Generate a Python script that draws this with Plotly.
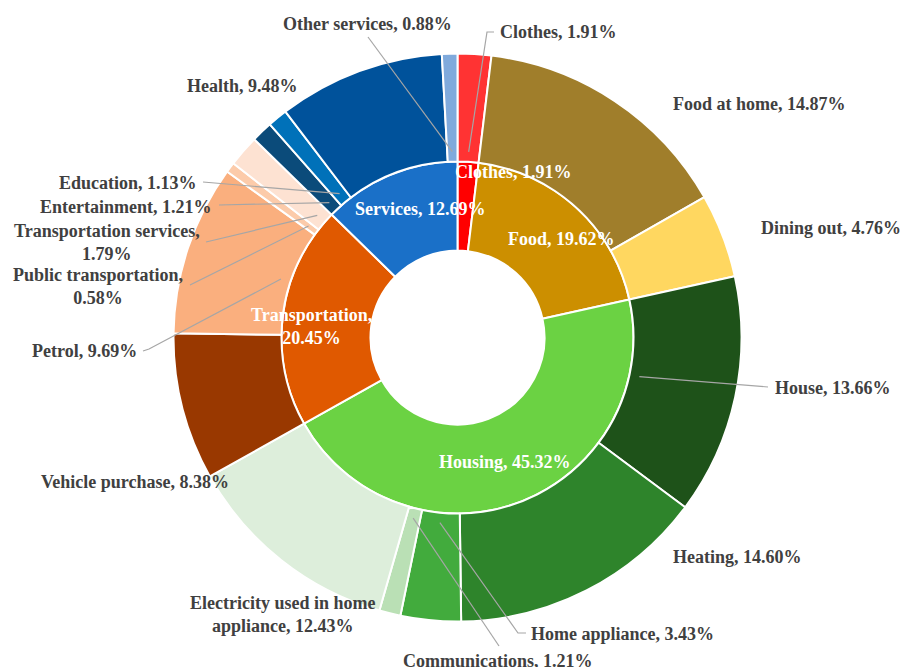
import math
import plotly.graph_objects as go

# ---- data -------------------------------------------------------------
inner_labels = ["Clothes", "Food", "Housing", "Transportation", "Services"]
inner_values = [1.91, 19.62, 45.32, 20.45, 12.69]

outer_labels = [
    "Clothes", "Food at home", "Dining out", "House", "Heating",
    "Home appliance", "Communications", "Electricity used in home appliance",
    "Vehicle purchase", "Petrol", "Public transportation",
    "Transportation services", "Entertainment", "Education", "Health",
    "Other services",
]
outer_values = [1.91, 14.87, 4.76, 13.66, 14.60, 3.43, 1.21, 12.43,
                8.38, 9.69, 0.58, 1.79, 1.21, 1.13, 9.48, 0.88]

# ---- styling ----------------------------------------------------------
inner_colors = ["#FF0000", "#CC8F00", "#6BD243", "#E05900", "#1A70C8"]
outer_colors = ["#FF3333", "#A07E2B", "#FFD760", "#1E5219", "#2E842B",
                "#42AB3D", "#BAE0B5", "#DDEEDB", "#993800", "#FAAF7E",
                "#FCCBAA", "#FDE2D2", "#0B4B7A", "#0071B9", "#00529B",
                "#80AADC"]

W, H = 903, 667
CX, CY = 457.5, 337.5          # ring centre (px from top-left)
R_OUT, R_MID, R_HOLE = 284, 176, 87
LEADER_R = 186                 # radius where leader lines touch the outer ring

FONT = "Liberation Serif"
TEXT_GREY = "#404040"
LINE_GREY = "#A6A6A6"


def px(x, y):
    """pixel position -> paper coordinates"""
    return x / W, 1 - y / H


def domain(r):
    return dict(x=[(CX - r) / W, (CX + r) / W],
                y=[(H - CY - r) / H, (H - CY + r) / H])


def slice_point(values, idx, r):
    total = sum(values)
    frac = (sum(values[:idx]) + values[idx] / 2) / total
    ang = 2 * math.pi * frac
    return CX + r * math.sin(ang), CY - r * math.cos(ang)


fig = go.Figure()
fig.add_trace(go.Pie(
    labels=inner_labels, values=inner_values, sort=False,
    direction="clockwise", rotation=0, hole=R_HOLE / R_MID,
    domain=domain(R_MID), textinfo="none",
    marker=dict(colors=inner_colors, line=dict(color="white", width=2)),
))
fig.add_trace(go.Pie(
    labels=outer_labels, values=outer_values, sort=False,
    direction="clockwise", rotation=0, hole=R_MID / R_OUT,
    domain=domain(R_OUT), textinfo="none",
    marker=dict(colors=outer_colors, line=dict(color="white", width=2)),
))

# label placement: text centre, optional line break point, leader start
inner_layout = {
    "Clothes": dict(pos=(513, 172)),
    "Food": dict(pos=(561, 239)),
    "Housing": dict(pos=(505, 462)),
    "Transportation": dict(pos=(311, 326), brk=", "),
    "Services": dict(pos=(420, 209)),
}
outer_layout = {
    "Clothes": dict(pos=(558, 32), lead=[(494, 32), (487, 32)]),
    "Food at home": dict(pos=(759, 104)),
    "Dining out": dict(pos=(831, 228)),
    "House": dict(pos=(833, 388), lead=[(768, 387)]),
    "Heating": dict(pos=(737, 557)),
    "Home appliance": dict(pos=(622, 634), lead=[(526, 633), (518, 633)]),
    "Communications": dict(pos=(498, 661), lead=[(499, 646)]),
    "Electricity used in home appliance": dict(pos=(282, 614), brk=" home "),
    "Vehicle purchase": dict(pos=(135, 482)),
    "Petrol": dict(pos=(84, 351), lead=[(143, 351), (149, 349)]),
    "Public transportation": dict(pos=(98, 286), brk=", ",
                                  lead=[(190, 285)]),
    "Transportation services": dict(pos=(107, 242), brk=", ",
                                    lead=[(206, 242)]),
    "Entertainment": dict(pos=(125, 207), lead=[(219, 205)]),
    "Education": dict(pos=(128, 183), lead=[(203, 182)]),
    "Health": dict(pos=(242, 86)),
    "Other services": dict(pos=(367, 24), lead=[(368, 37)]),
}


def label_text(name, value, brk=None):
    text = f"{name}, {value:.2f}%"
    if brk:
        text = text.replace(brk, brk.rstrip() + "<br>", 1)
    return text


annotations = []
shapes = []
for name, val in zip(inner_labels, inner_values):
    spec = inner_layout[name]
    x, y = px(*spec["pos"])
    annotations.append(dict(
        x=x, y=y, xref="paper", yref="paper", showarrow=False,
        text=label_text(name, val, spec.get("brk")),
        xanchor="center", yanchor="middle", align="center",
        font=dict(family=FONT, size=18, color="white", weight="bold"),
    ))

for i, (name, val) in enumerate(zip(outer_labels, outer_values)):
    spec = outer_layout[name]
    x, y = px(*spec["pos"])
    annotations.append(dict(
        x=x, y=y, xref="paper", yref="paper", showarrow=False,
        text=label_text(name, val, spec.get("brk")),
        xanchor="center", yanchor="middle", align="center",
        font=dict(family=FONT, size=18, color=TEXT_GREY, weight="bold"),
    ))
    if "lead" in spec:
        pts = list(spec["lead"]) + [slice_point(outer_values, i, LEADER_R)]
        path = "M " + " L ".join(
            f"{px(a, b)[0]:.5f},{px(a, b)[1]:.5f}" for a, b in pts)
        shapes.append(dict(type="path", path=path, xref="paper",
                           yref="paper", line=dict(color=LINE_GREY, width=1.2)))

fig.update_layout(
    width=W, height=H, margin=dict(l=0, r=0, t=0, b=0),
    showlegend=False, paper_bgcolor="white", plot_bgcolor="white",
    annotations=annotations, shapes=shapes,
)

fig.write_html("out.html")
